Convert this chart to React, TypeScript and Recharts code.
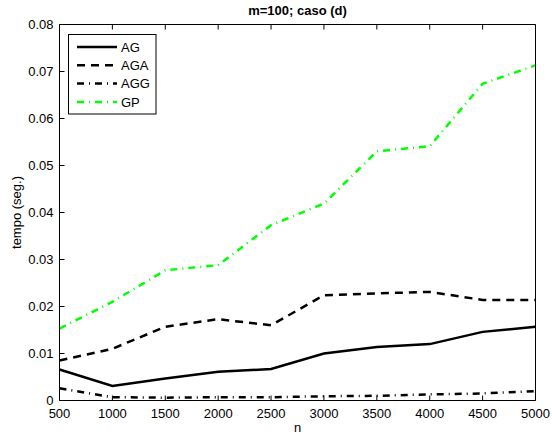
import { LineChart, Line, XAxis, YAxis } from "recharts";

const nValues = [500, 1000, 1500, 2000, 2500, 3000, 3500, 4000, 4500, 5000];
const agTimes = [0.0066, 0.0031, 0.0047, 0.0061, 0.0067, 0.01, 0.0114, 0.012, 0.0146, 0.0157];
const agaTimes = [0.0085, 0.011, 0.0157, 0.0173, 0.016, 0.0224, 0.0228, 0.0231, 0.0214, 0.0214];
const aggTimes = [0.0026, 0.0007, 0.0006, 0.0007, 0.0007, 0.0009, 0.001, 0.0013, 0.0015, 0.002];
const gpTimes = [0.0153, 0.021, 0.0277, 0.0288, 0.0373, 0.0419, 0.053, 0.0541, 0.0674, 0.0713];

const xTicks = [500, 1000, 1500, 2000, 2500, 3000, 3500, 4000, 4500, 5000];
const yTicks = [0, 0.01, 0.02, 0.03, 0.04, 0.05, 0.06, 0.07, 0.08];
const yTickLabels = ["0", "0.01", "0.02", "0.03", "0.04", "0.05", "0.06", "0.07", "0.08"];

const series = [
  { key: "AG", values: agTimes, color: "#000000", dash: undefined as string | undefined },
  { key: "AGA", values: agaTimes, color: "#000000", dash: "8 6" },
  { key: "AGG", values: aggTimes, color: "#000000", dash: "7 5 1 5" },
  { key: "GP", values: gpTimes, color: "#00ff00", dash: "7 5 1 5" },
];

const data = nValues.map((n, i) => {
  const row: Record<string, number> = { n };
  series.forEach((s) => (row[s.key] = s.values[i]));
  return row;
});

const W = 552;
const H = 436;
// plot box: left 59.5, right 535.5, top 24.5, bottom 400.5 (axes take 1px each)
const margin = { top: 23.5, right: 15.5, bottom: 34.5, left: 58.5 };
const font = "'Liberation Sans', Arial, Helvetica, sans-serif";
const TICK = 5;

function BottomTick(props: any) {
  const { x, y, payload } = props;
  return (
    <g>
      <line x1={x} y1={y} x2={x} y2={y - TICK} stroke="#000" />
      <text x={x} y={y + 17} textAnchor="middle" fontSize={13} fontFamily={font} fill="#000">
        {String(payload.value)}
      </text>
    </g>
  );
}

function TopTick(props: any) {
  const { x, y } = props;
  return <line x1={x} y1={y} x2={x} y2={y + TICK} stroke="#000" />;
}

function LeftTick(props: any) {
  const { x, y, payload, index } = props;
  return (
    <g>
      <line x1={x} y1={y} x2={x + TICK} y2={y} stroke="#000" />
      <text x={x - 6} y={y + 4.6} textAnchor="end" fontSize={13} fontFamily={font} fill="#000">
        {yTickLabels[index] ?? String(payload.value)}
      </text>
    </g>
  );
}

function RightTick(props: any) {
  const { x, y } = props;
  return <line x1={x} y1={y} x2={x - TICK} y2={y} stroke="#000" />;
}

export default function App() {
  const plotCx = 59.5 + 476 / 2;
  const plotCy = 24.5 + 376 / 2;
  const legendRows = [47, 65.3, 83.6, 101.9];

  return (
    <div style={{ position: "absolute", left: 0, top: 0, width: W, height: H, background: "#fff" }}>
      <LineChart width={W} height={H} data={data} margin={margin}>
        <XAxis
          dataKey="n"
          type="number"
          domain={[500, 5000]}
          ticks={xTicks}
          height={1}
          tickSize={0}
          tickMargin={0}
          tickLine={false}
          axisLine={{ stroke: "#000" }}
          tick={<BottomTick />}
          interval={0}
        />
        <XAxis
          xAxisId="top"
          orientation="top"
          dataKey="n"
          type="number"
          domain={[500, 5000]}
          ticks={xTicks}
          height={1}
          tickSize={0}
          tickMargin={0}
          tickLine={false}
          axisLine={{ stroke: "#000" }}
          tick={<TopTick />}
          interval={0}
        />
        <YAxis
          type="number"
          domain={[0, 0.08]}
          ticks={yTicks}
          width={1}
          tickSize={0}
          tickMargin={0}
          tickLine={false}
          axisLine={{ stroke: "#000" }}
          tick={<LeftTick />}
          interval={0}
        />
        <YAxis
          yAxisId="right"
          orientation="right"
          type="number"
          domain={[0, 0.08]}
          ticks={yTicks}
          width={1}
          tickSize={0}
          tickMargin={0}
          tickLine={false}
          axisLine={{ stroke: "#000" }}
          tick={<RightTick />}
          interval={0}
        />
        {series.map((s) => (
          <Line
            key={s.key}
            dataKey={s.key}
            type="linear"
            stroke={s.color}
            strokeWidth={2.5}
            strokeDasharray={s.dash}
            dot={false}
            activeDot={false}
            isAnimationActive={false}
          />
        ))}
      </LineChart>

      <svg
        width={W}
        height={H}
        style={{ position: "absolute", left: 0, top: 0, pointerEvents: "none" }}
        fontFamily={font}
      >
        <text x={plotCx} y={15} textAnchor="middle" fontSize={13} fontWeight="bold" fill="#000">
          m=100; caso (d)
        </text>
        <text x={plotCx} y={432} textAnchor="middle" fontSize={13} fill="#000">
          n
        </text>
        <text
          x={0}
          y={0}
          transform={`translate(21 ${plotCy}) rotate(-90)`}
          textAnchor="middle"
          fontSize={13}
          fill="#000"
        >
          tempo (seg.)
        </text>

        <rect x={68.5} y={34.5} width={87.5} height={79.5} fill="#fff" stroke="#000" strokeWidth={1} />
        {series.map((s, i) => (
          <g key={s.key}>
            <line
              x1={77}
              x2={117}
              y1={legendRows[i]}
              y2={legendRows[i]}
              stroke={s.color}
              strokeWidth={2.5}
              strokeDasharray={s.dash}
            />
            <text x={121} y={legendRows[i] + 4.6} fontSize={13} fill="#000">
              {s.key}
            </text>
          </g>
        ))}
      </svg>
    </div>
  );
}
